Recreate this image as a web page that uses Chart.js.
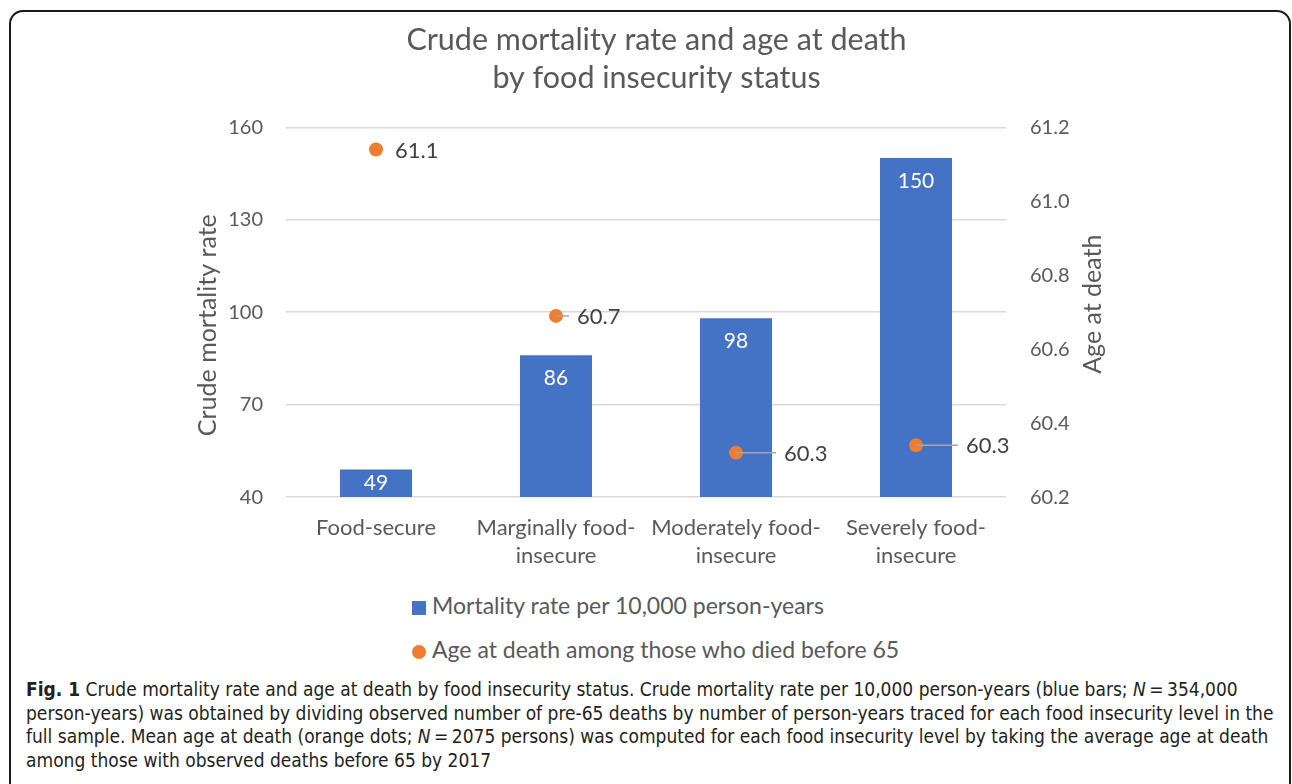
<!DOCTYPE html>
<html>
<head>
<meta charset="utf-8">
<script src="https://cdn.jsdelivr.net/npm/chart.js@4"></script>
<style>
  body { margin: 0; background: #fff; width: 1292px; height: 784px; overflow: hidden; position: relative; }
  #frame {
    position: absolute; left: 9px; top: 10px; width: 1282px; height: 820px;
    box-sizing: border-box; border: 2px solid #1a1a1a; border-radius: 14px;
  }
  #chartBox { position: absolute; left: 9px; top: 10px; width: 1282px; height: 574px; }
  #legend {
    position: absolute; left: 412px; top: 590px;
    font-family: Lato, "Open Sans", sans-serif; font-size: 23px; color: #595959;
  }
  .legend-item { height: 44px; line-height: 30px; white-space: nowrap; }
  .legend-mark { display: inline-block; width: 14px; height: 14px; margin-right: 6px; vertical-align: -1px; }
  #caption {
    position: absolute; left: 26px; top: 678px; width: 1250px;
    font-family: "Liberation Sans Narrow", "DejaVu Sans Condensed", sans-serif;
    font-size: 19px; line-height: 23.7px; color: #231f20; white-space: nowrap;
  }
</style>
</head>
<body>
<div id="frame"></div>
<div id="chartBox"><canvas id="mortalityChart"></canvas></div>
<div id="legend"></div>
<div id="caption">
  <b>Fig. 1</b> Crude mortality rate and age at death by food insecurity status. Crude mortality rate per 10,000 person-years (blue bars; <i>N</i>&#8201;=&#8201;354,000<br>
  person-years) was obtained by dividing observed number of pre-65 deaths by number of person-years traced for each food insecurity level in the<br>
  full sample. Mean age at death (orange dots; <i>N</i>&#8201;=&#8201;2075 persons) was computed for each food insecurity level by taking the average age at death<br>
  among those with observed deaths before 65 by 2017
</div>
<script>
// categories and values
const categories = [
    ['Food-secure'],
    ['Marginally food-', 'insecure'],
    ['Moderately food-', 'insecure'],
    ['Severely food-', 'insecure']
];
const mortalityRate = [49, 86, 98, 150];
const ageAtDeath = [61.14, 60.69, 60.32, 60.34];
const leftTicks = [40, 70, 100, 130, 160];
const rightTicks = [60.2, 60.4, 60.6, 60.8, 61.0, 61.2];

const BLUE = '#4472C4';
const ORANGE = '#ED7D31';
const GREY_TEXT = '#595959';
const FONT = 'Lato, "Open Sans", sans-serif';

// how far right of each dot its label starts (Excel moved some of them)
const dotLabelOffset = [19, 21, 48, 50];

function drawVerticalTitle(ctx, text, x, y) {
    ctx.save();
    ctx.translate(x, y);
    ctx.rotate(-Math.PI / 2);
    ctx.textAlign = 'center';
    ctx.textBaseline = 'middle';
    ctx.fillStyle = GREY_TEXT;
    ctx.font = '25px ' + FONT;
    ctx.fillText(text, 0, 0);
    ctx.restore();
}

// bar + dot value labels, and both axis titles (Excel put them a bit off-centre)
const valueLabels = {
    id: 'valueLabels',
    afterDatasetsDraw(chart) {
        const ctx = chart.ctx;
        const area = chart.chartArea;
        ctx.save();
        ctx.textBaseline = 'middle';

        const bars = chart.getDatasetMeta(1).data;
        ctx.font = '21px ' + FONT;
        ctx.fillStyle = '#ffffff';
        ctx.textAlign = 'center';
        bars.forEach((bar, i) => {
            const y = Math.min(bar.y + 23, (bar.y + area.bottom) / 2);
            ctx.fillText(String(mortalityRate[i]), bar.x, y);
        });

        const dots = chart.getDatasetMeta(0).data;
        ctx.font = '22px ' + FONT;
        ctx.textAlign = 'left';
        dots.forEach((pt, i) => {
            const off = dotLabelOffset[i];
            if (off > 19) {
                ctx.strokeStyle = '#a6a6a6';
                ctx.lineWidth = 1.5;
                ctx.beginPath();
                ctx.moveTo(pt.x, pt.y);
                ctx.lineTo(pt.x + off - 8, pt.y);
                ctx.stroke();
            }
            ctx.fillStyle = '#404040';
            ctx.fillText(ageAtDeath[i].toFixed(1), pt.x + off, pt.y + 1);
        });
        ctx.restore();

        const mid = (area.top + area.bottom) / 2;
        drawVerticalTitle(ctx, 'Crude mortality rate', area.left - 78, mid + 13);
        drawVerticalTitle(ctx, 'Age at death', area.right + 87, mid - 8);
    }
};

let mortalityChart;

function buildChart() {
    const ctx = document.getElementById('mortalityChart');
    mortalityChart = new Chart(ctx, {
        data: {
            labels: categories,
            datasets: [{
                type: 'line',
                label: 'Age at death among those who died before 65',
                data: ageAtDeath,
                yAxisID: 'y1',
                showLine: false,
                pointRadius: 7,
                pointHoverRadius: 7,
                pointBackgroundColor: ORANGE,
                pointBorderWidth: 0,
                backgroundColor: ORANGE,
                borderColor: ORANGE,
                order: 1
            }, {
                type: 'bar',
                label: 'Mortality rate per 10,000 person-years',
                data: mortalityRate,
                yAxisID: 'y',
                backgroundColor: BLUE,
                borderWidth: 0,
                barPercentage: 0.4,
                categoryPercentage: 1,
                order: 2
            }]
        },
        options: {
            responsive: true,
            maintainAspectRatio: false,
            animation: false,
            layout: {
                padding: { left: 184, right: 171, top: 0, bottom: 5 }
            },
            scales: {
                x: {
                    grid: { display: false },
                    border: { display: false },
                    ticks: {
                        color: GREY_TEXT,
                        padding: 9,
                        maxRotation: 0,
                        autoSkip: false,
                        font: { family: FONT, size: 22, lineHeight: 1.27 }
                    }
                },
                y: {
                    position: 'left',
                    min: 40,
                    max: 160,
                    afterBuildTicks: axis => { axis.ticks = leftTicks.map(v => ({ value: v })); },
                    afterFit: axis => { axis.width = 93; },
                    grid: { color: '#d9d9d9', lineWidth: 1.5, drawTicks: false },
                    border: { display: false },
                    ticks: {
                        color: GREY_TEXT,
                        padding: 23,
                        font: { family: FONT, size: 20 }
                    }
                },
                y1: {
                    position: 'right',
                    min: 60.2,
                    max: 61.2,
                    afterBuildTicks: axis => { axis.ticks = rightTicks.map(v => ({ value: v })); },
                    afterFit: axis => { axis.width = 114; },
                    grid: { display: false, drawTicks: false },
                    border: { display: false },
                    ticks: {
                        color: GREY_TEXT,
                        padding: 24,
                        font: { family: FONT, size: 20 },
                        callback: v => Number(v).toFixed(1)
                    }
                }
            },
            plugins: {
                legend: { display: false },
                tooltip: { enabled: false },
                title: {
                    display: true,
                    text: ['Crude mortality rate and age at death', 'by food insecurity status'],
                    color: GREY_TEXT,
                    padding: { top: 11, bottom: 30 },
                    font: { family: FONT, size: 30.5, weight: 'normal', lineHeight: 1.25 }
                }
            }
        },
        plugins: [valueLabels]
    });
}

// legend outside the canvas so the two entries stack like the original
function buildLegend() {
    const legend = document.getElementById('legend');
    const entries = [mortalityChart.data.datasets[1], mortalityChart.data.datasets[0]];
    entries.forEach(ds => {
        const item = document.createElement('div');
        item.className = 'legend-item';
        const mark = document.createElement('span');
        mark.className = 'legend-mark';
        mark.style.background = ds.backgroundColor;
        if (ds.type === 'line') mark.style.borderRadius = '50%';
        item.appendChild(mark);
        item.appendChild(document.createTextNode(ds.label));
        legend.appendChild(item);
    });
}

document.addEventListener('DOMContentLoaded', function() {
    buildChart();
    buildLegend();
});
</script>
</body>
</html>
